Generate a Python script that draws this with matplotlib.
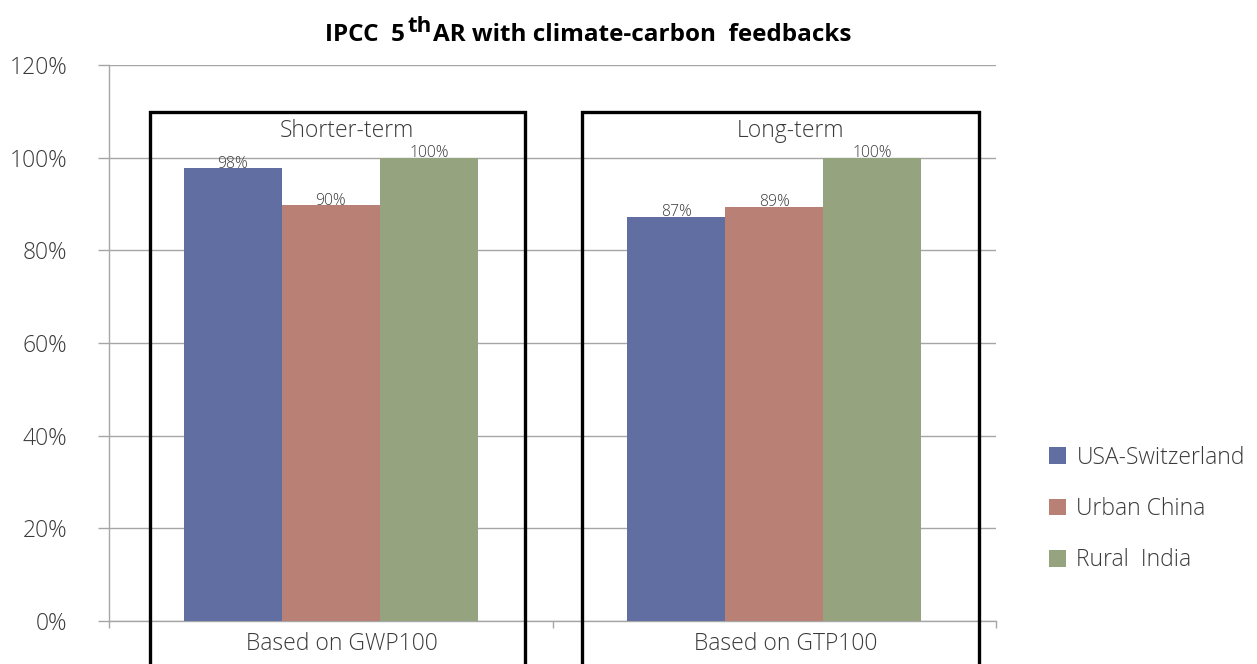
import matplotlib
matplotlib.use("Agg")
import matplotlib.pyplot as plt
import numpy as np
from matplotlib.patches import Rectangle

plt.rcParams['font.family'] = ['Open Sans', 'DejaVu Sans']

categories = ["Based on GWP100", "Based on GTP100"]
group_titles = ["Shorter-term", "Long-term"]
series_names = ["USA-Switzerland", "Urban China", "Rural  India"]
usa_switzerland = [97.7, 87.3]
urban_china = [89.7, 89.4]
rural_india = [100.0, 100.0]
value_labels = [["98%", "87%"], ["90%", "89%"], ["100%", "100%"]]
yticks = [0, 20, 40, 60, 80, 100, 120]
ytick_labels = ["0%", "20%", "40%", "60%", "80%", "100%", "120%"]

colors = ["#616EA1", "#B98075", "#95A47F"]
text_color = "#3A3A3A"
grid_color = "#A6A6A6"
FS = 16.5
LW = 'light'

W, H = 1257, 664
fig = plt.figure(figsize=(W / 100, H / 100), dpi=100)
ax = fig.add_axes([109 / W, 1 - 621 / H, (996 - 109) / W, (621 - 65) / H])

x = np.arange(len(categories))
bw = 0.221
series = [usa_switzerland, urban_china, rural_india]
for i, (vals, name, c) in enumerate(zip(series, series_names, colors)):
    pos = x + (i - 1) * bw
    ax.bar(pos, vals, width=bw, color=c, label=name, zorder=3)
    for p, v, lab in zip(pos, vals, value_labels[i]):
        ax.text(p, v - 0.7, lab, ha='center', va='bottom', fontsize=11.3,
                color=text_color, fontweight=LW, zorder=4)

ax.set_xlim(-0.5, 1.5)
ax.set_ylim(0, 120)
ax.set_yticks(yticks)
ax.set_yticklabels(ytick_labels, fontsize=FS, color=text_color, fontweight=LW)
ax.yaxis.grid(True, color=grid_color, linewidth=1.0, zorder=0)
ax.set_axisbelow(True)
ax.tick_params(axis='y', length=8, color=grid_color, width=1.0, pad=22)
ax.set_xticks([-0.5, 0.5, 1.5])
ax.set_xticklabels([])
ax.tick_params(axis='x', length=5, color=grid_color, width=1.0, direction='out')
for s in ['top', 'right']:
    ax.spines[s].set_visible(False)
for s in ['left', 'bottom']:
    ax.spines[s].set_color(grid_color)
    ax.spines[s].set_linewidth(1.0)

# category labels and group titles
for xi, lab, gt in zip(x, categories, group_titles):
    ax.text(xi + 0.025, -5.0, lab, ha='center', va='center', fontsize=FS,
            color=text_color, fontweight=LW, clip_on=False)
    ax.text(xi + 0.037, 105.7, gt, ha='center', va='center', fontsize=FS,
            color=text_color, fontweight=LW)

# black boxes (figure annotation shapes)
boxes = [(150, 525), (582, 979)]
for x0, x1 in boxes:
    r = Rectangle((x0 / W, -0.02), (x1 - x0) / W, (1 - 112 / H) + 0.02,
                  transform=fig.transFigure, fill=False, edgecolor='black',
                  linewidth=2.4, clip_on=False, zorder=10)
    fig.patches.append(r)

# title with large superscript
y_main = 1 - 41 / H
y_sup = 1 - 32 / H
t1 = fig.text(325 / W, y_main, "IPCC  5", ha='left', va='baseline',
              fontsize=17.5, fontweight='bold', color='black')
t2 = fig.add_artist(matplotlib.text.Annotation(
    "th", xy=(1, y_sup), xycoords=(t1, 'figure fraction'),
    xytext=(2, 0), textcoords='offset points', ha='left', va='baseline',
    fontsize=16, fontweight='bold', color='black'))
t3 = fig.add_artist(matplotlib.text.Annotation(
    "AR with climate-carbon  feedbacks", xy=(1, y_main),
    xycoords=(t2, 'figure fraction'), xytext=(1, 0),
    textcoords='offset points', ha='left', va='baseline',
    fontsize=17.5, fontweight='bold', color='black'))

fig.legend(loc='center left', bbox_to_anchor=(1049 / W, 1 - 509 / H),
           frameon=False, prop={'size': FS, 'weight': LW},
           labelspacing=1.2, handlelength=0.75,
           handleheight=0.75, handletextpad=0.45, labelcolor=text_color,
           borderpad=0, borderaxespad=0)

fig.savefig("out.png", dpi=100)
